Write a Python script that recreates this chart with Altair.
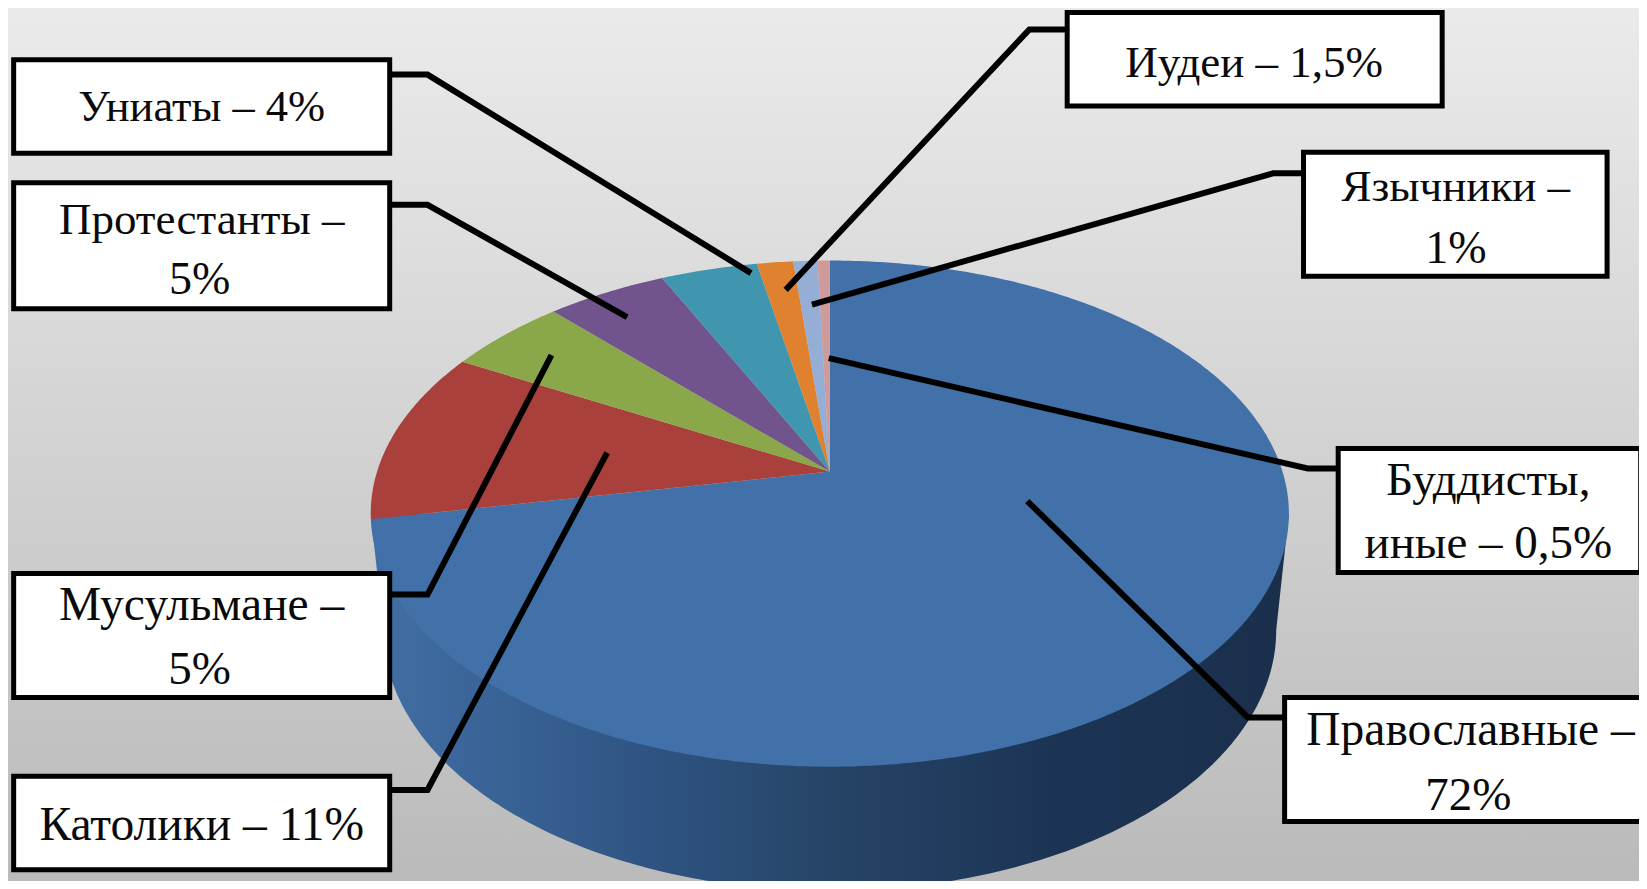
import math
import altair as alt
import pandas as pd

# ---- values ----
categories = ["Православные", "Католики", "Мусульмане", "Протестанты", "Униаты", "Иудеи", "Язычники", "Буддисты, иные"]
shares = [72, 11, 5, 5, 4, 1.5, 1, 0.5]
slice_colors = ["#4270a8", "#a9403c", "#8aa84a", "#71538e", "#3f96ae", "#e0812f", "#94aed6", "#cf9a9a"]

# ---- label texts ----
label_texts = ["Униаты – 4%", "Протестанты –", "5%", "Иудеи – 1,5%", "Язычники –", "1%",
               "Буддисты,", "иные – 0,5%", "Православные –", "72%", "Мусульмане –", "5%", "Католики – 11%"]
label_x = [192, 192, 190, 1194, 1386, 1386, 1417, 1417, 1400, 1398, 192, 190, 192]
label_y = [103, 209, 267, 60, 178, 237, 458, 518, 696, 758, 577, 638, 786]
label_size = [44.5, 45, 46, 45, 45, 46, 47, 47, 47.5, 47, 47.5, 47, 47.5]
boxes = [
    (13, 371, 57, 146), (13, 371, 174, 294), (1016, 1373, 12, 101), (1241, 1530, 145, 263),
    (1274, 1562, 427, 545), (1223, 1575, 664, 782), (13, 371, 546, 664), (13, 371, 739, 828),
]
leaders = [
    [(371, 71), (407, 71), (715, 260)], [(371, 195), (407, 195), (597, 302)],
    [(371, 566), (407, 566), (525, 338)], [(371, 752), (407, 752), (578, 431)],
    [(1016, 28), (980, 28), (748, 276)], [(1241, 165), (1212, 165), (773, 290)],
    [(1274, 446), (1245, 446), (789, 341)], [(1223, 683), (1188, 683), (978, 477)],
]

# ---- layout ----
Z = 1647 / 1568  # picture units to page pixels
W, H = 1631, 873
CX, AY = 790 * Z, 449 * Z      # pie apex
A, B, K = 431 * Z, 234.3 * Z, 0.1659  # perspective of the pie's disc
RIM_CY, RIM_RX, RIM_RY = 600 * Z, 425 * Z, 248 * Z


def project(deg):
    t = math.radians(deg)
    X, Y = math.sin(t), -math.cos(t)
    d = 1 - K * Y
    return [CX + A * X / d, AY + B * Y / d]


features = []
cum = 0
for name, v in zip(categories, shares):
    a0, a1 = cum * 3.6, (cum + v) * 3.6
    n = max(2, int((a1 - a0) / 0.5))
    ring = [[CX, AY]] + [project(a0 + (a1 - a0) * i / n) for i in range(n + 1)] + [[CX, AY]]
    features.append({"type": "Feature", "properties": {"name": name},
                     "geometry": {"type": "Polygon", "coordinates": [ring]}})
    cum += v

rim = [[CX - 437 * Z, 489 * Z]]
for i in range(181):
    t = math.radians(180 - i)
    rim.append([CX + RIM_RX * math.cos(t), RIM_CY + RIM_RY * math.sin(t)])
rim.append([CX + 437 * Z, 489 * Z])
rim.append([CX - 437 * Z, 489 * Z])
rim_feature = [{"type": "Feature", "properties": {"name": "rim"},
                "geometry": {"type": "Polygon", "coordinates": [rim]}}]

xs = alt.Scale(domain=[8, 8 + W], nice=False, zero=False)
ys = alt.Scale(domain=[8, 8 + H], nice=False, zero=False, reverse=True)
X = lambda f: alt.X(f, type="quantitative", scale=xs, axis=None)
Y = lambda f: alt.Y(f, type="quantitative", scale=ys, axis=None)
proj = dict(type="identity", scale=1, translate=[-8, -8])

bg = alt.Chart(pd.DataFrame({"x": [0], "x2": [1700], "y": [0], "y2": [900]})).mark_rect(
    clip=True,
    fill=alt.Gradient(gradient="linear", x1=0, y1=0, x2=0, y2=1,
                      stops=[alt.GradientStop(color="#ebebeb", offset=0),
                             alt.GradientStop(color="#d2d2d2", offset=0.5),
                             alt.GradientStop(color="#b9b9b9", offset=1)]),
).encode(x=X("x"), x2="x2", y=Y("y"), y2="y2")

side = alt.Chart(alt.Data(values=rim_feature)).mark_geoshape(
    clip=True, strokeWidth=0,
    fill=alt.Gradient(gradient="linear", x1=0, y1=0, x2=1, y2=0,
                      stops=[alt.GradientStop(color="#426fa6", offset=0),
                             alt.GradientStop(color="#2f5483", offset=0.3),
                             alt.GradientStop(color="#264467", offset=0.5),
                             alt.GradientStop(color="#1c3454", offset=0.75),
                             alt.GradientStop(color="#1a2f4c", offset=1)]),
).project(**proj)

top = alt.Chart(alt.Data(values=features)).mark_geoshape(clip=True, strokeWidth=0).encode(
    color=alt.Color("properties.name:N", legend=None,
                    scale=alt.Scale(domain=categories, range=slice_colors))
).project(**proj)

line_rows = [{"id": i, "o": j, "x": p[0] * Z, "y": p[1] * Z}
             for i, pts in enumerate(leaders) for j, p in enumerate(pts)]
lines = alt.Chart(pd.DataFrame(line_rows)).mark_line(
    color="#000000", strokeWidth=6, clip=True, strokeJoin="miter"
).encode(x=X("x"), y=Y("y"), detail="id:N", order="o:Q")

box_df = pd.DataFrame([{"x": b[0] * Z, "x2": b[1] * Z, "y": b[2] * Z, "y2": b[3] * Z} for b in boxes])
rects = alt.Chart(box_df).mark_rect(
    fill="#ffffff", stroke="#000000", strokeWidth=5, clip=True
).encode(x=X("x"), x2="x2", y=Y("y"), y2="y2")

text_df = pd.DataFrame({"t": label_texts, "x": [v * Z for v in label_x], "y": [v * Z for v in label_y],
                        "s": label_size})
texts = alt.Chart(text_df).mark_text(
    font="Liberation Serif", color="#0a0a0a", align="center", baseline="middle", clip=True
).encode(x=X("x"), y=Y("y"), text="t:N",
         size=alt.Size("s:Q", scale=None, legend=None))

chart = alt.layer(bg, side, top, lines, rects, texts).properties(
    width=W, height=H, padding=0
).configure_view(stroke=None)

chart.save("out.html", embed_options={"renderer": "svg", "actions": False})
